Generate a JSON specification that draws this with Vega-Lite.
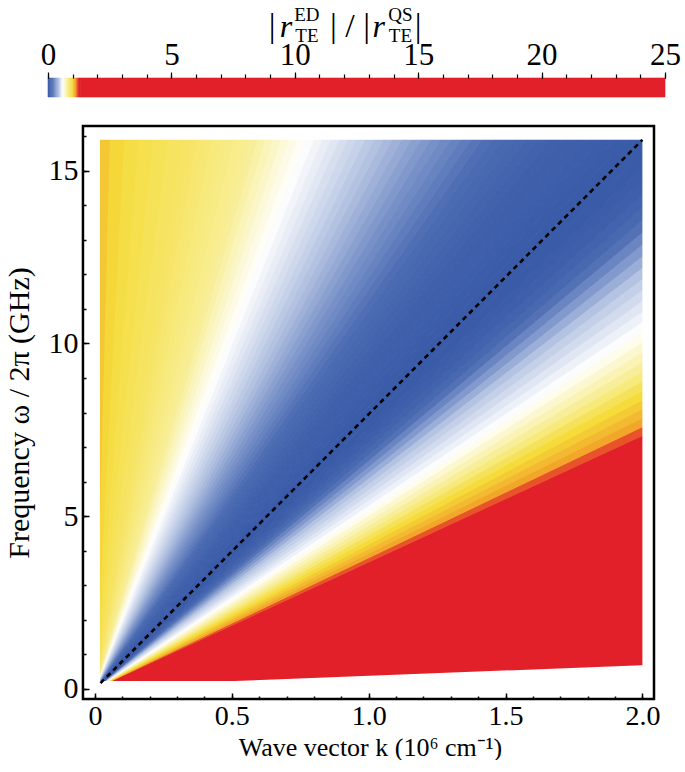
{
  "$schema": "https://vega.github.io/schema/vega-lite/v6.json",
  "background": "white",
  "padding": {"left": 4, "top": 6, "right": 0, "bottom": 0},
  "spacing": 26,
  "config": {
    "view": {"stroke": null},
    "font": "Liberation Serif",
    "axis": {"labelFont": "Liberation Serif", "titleFont": "Liberation Serif", "titleFontWeight": "normal", "labelColor": "black", "titleColor": "black", "tickColor": "black", "grid": false, "domain": false, "zindex": 1, "labelOverlap": false, "labelFlush": false},
    "text": {"font": "Liberation Serif", "color": "black"}
  },
  "datasets": {
    "bar": [
      {"a":0,"b":0.05,"c":0.025},{"a":0.05,"b":0.1,"c":0.075},{"a":0.1,"b":0.15,"c":0.125},{"a":0.15,"b":0.2,"c":0.175},
      {"a":0.2,"b":0.25,"c":0.225},{"a":0.25,"b":0.3,"c":0.275},{"a":0.3,"b":0.35,"c":0.325},{"a":0.35,"b":0.4,"c":0.375},
      {"a":0.4,"b":0.45,"c":0.425},{"a":0.45,"b":0.5,"c":0.475},{"a":0.5,"b":0.55,"c":0.525},{"a":0.55,"b":0.6,"c":0.575},
      {"a":0.6,"b":0.65,"c":0.625},{"a":0.65,"b":0.7,"c":0.675},{"a":0.7,"b":0.75,"c":0.725},{"a":0.75,"b":0.8,"c":0.775},
      {"a":0.8,"b":0.85,"c":0.825},{"a":0.85,"b":0.9,"c":0.875},{"a":0.9,"b":0.95,"c":0.925},{"a":0.95,"b":1.0,"c":0.975},
      {"a":1.0,"b":1.05,"c":1.025},{"a":1.05,"b":1.1,"c":1.075},{"a":1.1,"b":1.15,"c":1.125},{"a":1.15,"b":1.2,"c":1.175},
      {"a":1.2,"b":1.25,"c":1.225},{"a":1.25,"b":1.3,"c":1.275},{"a":1.3,"b":25,"c":25}
    ],
    "wedges": [
      {"w":0,"k":0,"lo":0,"hi":0,"r":25},{"w":0,"k":2.1,"lo":0,"hi":7.435,"r":25},
      {"w":1,"k":0,"lo":0,"hi":0,"r":1.28},{"w":1,"k":2.1,"lo":7.435,"hi":7.70,"r":1.28},
      {"w":2,"k":0,"lo":0,"hi":0,"r":1.2},{"w":2,"k":2.1,"lo":7.70,"hi":7.966,"r":1.2},
      {"w":3,"k":0,"lo":0,"hi":0,"r":1.116},{"w":3,"k":2.1,"lo":7.966,"hi":8.237,"r":1.116},
      {"w":4,"k":0,"lo":0,"hi":0,"r":1.077},{"w":4,"k":2.1,"lo":8.237,"hi":8.509,"r":1.077},
      {"w":5,"k":0,"lo":0,"hi":0,"r":1.038},{"w":5,"k":2.1,"lo":8.509,"hi":8.788,"r":1.038},
      {"w":6,"k":0,"lo":0,"hi":0,"r":0.998},{"w":6,"k":2.1,"lo":8.788,"hi":9.068,"r":0.998},
      {"w":7,"k":0,"lo":0,"hi":0,"r":0.93},{"w":7,"k":2.1,"lo":9.068,"hi":9.355,"r":0.93},
      {"w":8,"k":0,"lo":0,"hi":0,"r":0.861},{"w":8,"k":2.1,"lo":9.355,"hi":9.643,"r":0.861},
      {"w":9,"k":0,"lo":0,"hi":0,"r":0.795},{"w":9,"k":2.1,"lo":9.643,"hi":9.938,"r":0.795},
      {"w":10,"k":0,"lo":0,"hi":0,"r":0.743},{"w":10,"k":2.1,"lo":9.938,"hi":10.234,"r":0.743},
      {"w":11,"k":0,"lo":0,"hi":0,"r":0.691},{"w":11,"k":2.1,"lo":10.234,"hi":10.539,"r":0.691},
      {"w":12,"k":0,"lo":0,"hi":0,"r":0.64},{"w":12,"k":2.1,"lo":10.539,"hi":10.845,"r":0.64},
      {"w":13,"k":0,"lo":0,"hi":0,"r":0.593},{"w":13,"k":2.1,"lo":10.845,"hi":11.161,"r":0.593},
      {"w":14,"k":0,"lo":0,"hi":0,"r":0.563},{"w":14,"k":2.1,"lo":11.161,"hi":11.478,"r":0.563},
      {"w":15,"k":0,"lo":0,"hi":0,"r":0.534},{"w":15,"k":2.1,"lo":11.478,"hi":11.805,"r":0.534},
      {"w":16,"k":0,"lo":0,"hi":0,"r":0.504},{"w":16,"k":2.1,"lo":11.805,"hi":12.133,"r":0.504},
      {"w":17,"k":0,"lo":0,"hi":0,"r":0.475},{"w":17,"k":2.1,"lo":12.133,"hi":12.473,"r":0.475},
      {"w":18,"k":0,"lo":0,"hi":0,"r":0.44},{"w":18,"k":2.1,"lo":12.473,"hi":12.814,"r":0.44},
      {"w":19,"k":0,"lo":0,"hi":0,"r":0.377},{"w":19,"k":2.1,"lo":12.814,"hi":13.168,"r":0.377},
      {"w":20,"k":0,"lo":0,"hi":0,"r":0.315},{"w":20,"k":2.1,"lo":13.168,"hi":13.524,"r":0.315},
      {"w":21,"k":0,"lo":0,"hi":0,"r":0.246},{"w":21,"k":2.1,"lo":13.524,"hi":13.893,"r":0.246},
      {"w":22,"k":0,"lo":0,"hi":0,"r":0.176},{"w":22,"k":2.1,"lo":13.893,"hi":14.263,"r":0.176},
      {"w":23,"k":0,"lo":0,"hi":0,"r":0.12},{"w":23,"k":2.1,"lo":14.263,"hi":14.649,"r":0.12},
      {"w":24,"k":0,"lo":0,"hi":0,"r":0.073},{"w":24,"k":2.1,"lo":14.649,"hi":15.037,"r":0.073},
      {"w":25,"k":0,"lo":0,"hi":0,"r":0.041},{"w":25,"k":2.1,"lo":15.037,"hi":15.442,"r":0.041},
      {"w":26,"k":0,"lo":0,"hi":0,"r":0.022},{"w":26,"k":2.1,"lo":15.442,"hi":15.848,"r":0.022},
      {"w":27,"k":0,"lo":0,"hi":0,"r":0.003},{"w":27,"k":2.1,"lo":15.848,"hi":16.273,"r":0.003},
      {"w":28,"k":0,"lo":0,"hi":0,"r":0},{"w":28,"k":2.1,"lo":16.273,"hi":16.7,"r":0},
      {"w":29,"k":0,"lo":0,"hi":0,"r":0.004},{"w":29,"k":2.1,"lo":16.7,"hi":17.148,"r":0.004},
      {"w":30,"k":0,"lo":0,"hi":0,"r":0.011},{"w":30,"k":2.1,"lo":17.148,"hi":17.598,"r":0.011},
      {"w":31,"k":0,"lo":0,"hi":0,"r":0.019},{"w":31,"k":2.1,"lo":17.598,"hi":18.072,"r":0.019},
      {"w":32,"k":0,"lo":0,"hi":0,"r":0.026},{"w":32,"k":2.1,"lo":18.072,"hi":18.547,"r":0.026},
      {"w":33,"k":0,"lo":0,"hi":0,"r":0.034},{"w":33,"k":2.1,"lo":18.547,"hi":19.049,"r":0.034},
      {"w":34,"k":0,"lo":0,"hi":0,"r":0.041},{"w":34,"k":2.1,"lo":19.049,"hi":19.552,"r":0.041},
      {"w":35,"k":0,"lo":0,"hi":0,"r":0.049},{"w":35,"k":2.1,"lo":19.552,"hi":20.08,"r":0.049},
      {"w":36,"k":0,"lo":0,"hi":0,"r":0.066},{"w":36,"k":2.1,"lo":20.08,"hi":20.623,"r":0.066},
      {"w":37,"k":0,"lo":0,"hi":0,"r":0.084},{"w":37,"k":2.1,"lo":20.623,"hi":21.19,"r":0.084},
      {"w":38,"k":0,"lo":0,"hi":0,"r":0.103},{"w":38,"k":2.1,"lo":21.19,"hi":21.763,"r":0.103},
      {"w":39,"k":0,"lo":0,"hi":0,"r":0.122},{"w":39,"k":2.1,"lo":21.763,"hi":22.37,"r":0.122},
      {"w":40,"k":0,"lo":0,"hi":0,"r":0.141},{"w":40,"k":2.1,"lo":22.37,"hi":22.986,"r":0.141},
      {"w":41,"k":0,"lo":0,"hi":0,"r":0.1625},{"w":41,"k":2.1,"lo":22.986,"hi":23.63,"r":0.1625},
      {"w":42,"k":0,"lo":0,"hi":0,"r":0.1875},{"w":42,"k":2.1,"lo":23.63,"hi":24.299,"r":0.1875},
      {"w":43,"k":0,"lo":0,"hi":0,"r":0.2125},{"w":43,"k":2.1,"lo":24.299,"hi":25.0,"r":0.2125},
      {"w":44,"k":0,"lo":0,"hi":0,"r":0.2375},{"w":44,"k":2.1,"lo":25.0,"hi":25.716,"r":0.2375},
      {"w":45,"k":0,"lo":0,"hi":0,"r":0.2625},{"w":45,"k":2.1,"lo":25.716,"hi":26.47,"r":0.2625},
      {"w":46,"k":0,"lo":0,"hi":0,"r":0.2875},{"w":46,"k":2.1,"lo":26.47,"hi":27.253,"r":0.2875},
      {"w":47,"k":0,"lo":0,"hi":0,"r":0.3125},{"w":47,"k":2.1,"lo":27.253,"hi":28.07,"r":0.3125},
      {"w":48,"k":0,"lo":0,"hi":0,"r":0.3375},{"w":48,"k":2.1,"lo":28.07,"hi":28.926,"r":0.3375},
      {"w":49,"k":0,"lo":0,"hi":0,"r":0.3625},{"w":49,"k":2.1,"lo":28.926,"hi":29.82,"r":0.3625},
      {"w":50,"k":0,"lo":0,"hi":0,"r":0.3875},{"w":50,"k":2.1,"lo":29.82,"hi":30.758,"r":0.3875},
      {"w":51,"k":0,"lo":0,"hi":0,"r":0.4125},{"w":51,"k":2.1,"lo":30.758,"hi":31.74,"r":0.4125},
      {"w":52,"k":0,"lo":0,"hi":0,"r":0.4375},{"w":52,"k":2.1,"lo":31.74,"hi":32.775,"r":0.4375},
      {"w":53,"k":0,"lo":0,"hi":0,"r":0.459},{"w":53,"k":2.1,"lo":32.775,"hi":33.86,"r":0.459},
      {"w":54,"k":0,"lo":0,"hi":0,"r":0.478},{"w":54,"k":2.1,"lo":33.86,"hi":35.012,"r":0.478},
      {"w":55,"k":0,"lo":0,"hi":0,"r":0.497},{"w":55,"k":2.1,"lo":35.012,"hi":36.22,"r":0.497},
      {"w":56,"k":0,"lo":0,"hi":0,"r":0.516},{"w":56,"k":2.1,"lo":36.22,"hi":37.508,"r":0.516},
      {"w":57,"k":0,"lo":0,"hi":0,"r":0.534},{"w":57,"k":2.1,"lo":37.508,"hi":38.86,"r":0.534},
      {"w":58,"k":0,"lo":0,"hi":0,"r":0.553},{"w":58,"k":2.1,"lo":38.86,"hi":40.317,"r":0.553},
      {"w":59,"k":0,"lo":0,"hi":0,"r":0.572},{"w":59,"k":2.1,"lo":40.317,"hi":41.85,"r":0.572},
      {"w":60,"k":0,"lo":0,"hi":0,"r":0.591},{"w":60,"k":2.1,"lo":41.85,"hi":43.505,"r":0.591},
      {"w":61,"k":0,"lo":0,"hi":0,"r":0.615},{"w":61,"k":2.1,"lo":43.505,"hi":45.25,"r":0.615},
      {"w":62,"k":0,"lo":0,"hi":0,"r":0.645},{"w":62,"k":2.1,"lo":45.25,"hi":47.159,"r":0.645},
      {"w":63,"k":0,"lo":0,"hi":0,"r":0.675},{"w":63,"k":2.1,"lo":47.159,"hi":49.19,"r":0.675},
      {"w":64,"k":0,"lo":0,"hi":0,"r":0.705},{"w":64,"k":2.1,"lo":49.19,"hi":51.398,"r":0.705},
      {"w":65,"k":0,"lo":0,"hi":0,"r":0.735},{"w":65,"k":2.1,"lo":51.398,"hi":53.83,"r":0.735},
      {"w":66,"k":0,"lo":0,"hi":0,"r":0.765},{"w":66,"k":2.1,"lo":53.83,"hi":56.378,"r":0.765},
      {"w":67,"k":0,"lo":0,"hi":0,"r":0.795},{"w":67,"k":2.1,"lo":56.378,"hi":59.25,"r":0.795},
      {"w":68,"k":0,"lo":0,"hi":0,"r":0.81},{"w":68,"k":2.1,"lo":59.25,"hi":62.326,"r":0.81},
      {"w":69,"k":0,"lo":0,"hi":0,"r":0.823},{"w":69,"k":2.1,"lo":62.326,"hi":65.78,"r":0.823},
      {"w":70,"k":0,"lo":0,"hi":0,"r":0.835},{"w":70,"k":2.1,"lo":65.78,"hi":69.561,"r":0.835},
      {"w":71,"k":0,"lo":0,"hi":0,"r":0.848},{"w":71,"k":2.1,"lo":69.561,"hi":73.81,"r":0.848},
      {"w":72,"k":0,"lo":0,"hi":0,"r":0.86},{"w":72,"k":2.1,"lo":73.81,"hi":78.567,"r":0.86},
      {"w":73,"k":0,"lo":0,"hi":0,"r":0.873},{"w":73,"k":2.1,"lo":78.567,"hi":83.97,"r":0.873},
      {"w":74,"k":0,"lo":0,"hi":0,"r":0.885},{"w":74,"k":2.1,"lo":83.97,"hi":90.105,"r":0.885},
      {"w":75,"k":0,"lo":0,"hi":0,"r":0.898},{"w":75,"k":2.1,"lo":90.105,"hi":97.2,"r":0.898},
      {"w":76,"k":0,"lo":0,"hi":0,"r":0.907},{"w":76,"k":2.1,"lo":97.2,"hi":105.44,"r":0.907},
      {"w":77,"k":0,"lo":0,"hi":0,"r":0.92},{"w":77,"k":2.1,"lo":105.44,"hi":126.85,"r":0.92},
      {"w":78,"k":0,"lo":0,"hi":0,"r":0.938},{"w":78,"k":2.1,"lo":126.85,"hi":158.89,"r":0.938},
      {"w":79,"k":0,"lo":0,"hi":0,"r":0.956},{"w":79,"k":2.1,"lo":158.89,"hi":212.19,"r":0.956},
      {"w":80,"k":0,"lo":0,"hi":0,"r":0.976},{"w":80,"k":2.1,"lo":212.19,"hi":318.65,"r":0.976},
      {"w":81,"k":0,"lo":0,"hi":0,"r":1.011},{"w":81,"k":2.1,"lo":318.65,"hi":637.74,"r":1.011},
      {"w":82,"k":0,"lo":0,"hi":0,"r":1.046},{"w":82,"k":2.1,"lo":637.74,"hi":20000,"r":1.046}
    ],
    "masks": [
      {"x0":-0.2,"x1":0.018,"y0":-1,"y1":17},
      {"x0":-0.2,"x1":2.1,"y0":15.9,"y1":17},
      {"x0":2.0,"x1":2.1,"y0":-1,"y1":17}
    ],
    "bottom": [
      {"k":-0.2,"y":0.22},{"k":0.51,"y":0.22},{"k":2.1,"y":0.711}
    ],
    "light": [
      {"k":0.02,"w":0.16},{"k":2.0,"w":15.9}
    ]
  },
  "vconcat": [
    {
      "width": 617,
      "height": 19,
      "resolve": {"axis": {"x": "independent"}},
      "layer": [
        {
          "data": {"name": "bar"},
          "mark": {"type": "rect", "strokeWidth": 0.6},
          "encoding": {
            "x": {"field": "a", "type": "quantitative", "scale": {"domain": [0, 25], "nice": false, "zero": false},
              "axis": {"orient": "top", "values": [0,5,10,15,20,25], "tickSize": 6, "tickWidth": 1.2, "labelFontSize": 31, "labelPadding": 1, "title": null, "zindex": 1}},
            "x2": {"field": "b"},
            "y": {"datum": 0, "type": "quantitative", "scale": {"domain": [0, 1], "nice": false, "zero": false}, "axis": null},
            "y2": {"datum": 1},
            "color": {"field": "c", "type": "quantitative", "legend": null,
              "scale": {"type": "linear", "domain": [0, 0.15, 0.3, 0.45, 0.6, 0.8, 1.0, 1.12, 1.25, 25], "range": ["#3a5ba8", "#4b6bb2", "#7b94ca", "#b8c6e3", "#ffffff", "#f8ee96", "#f5dc3a", "#f2a52a", "#e2202a", "#e2202a"], "interpolate": "rgb"}},
            "stroke": {"field": "c", "type": "quantitative", "legend": null,
              "scale": {"type": "linear", "domain": [0, 0.15, 0.3, 0.45, 0.6, 0.8, 1.0, 1.12, 1.25, 25], "range": ["#3a5ba8", "#4b6bb2", "#7b94ca", "#b8c6e3", "#ffffff", "#f8ee96", "#f5dc3a", "#f2a52a", "#e2202a", "#e2202a"], "interpolate": "rgb"}}
          }
        },
        {"data": {"values": [{}]}, "mark": {"type": "text", "text": "|", "fontSize": 34, "align": "center", "baseline": "alphabetic"},
          "encoding": {"x": {"datum": 9.08, "type": "quantitative",
              "axis": {"orient": "top", "values": [0,1,2,3,4,5,6,7,8,9,10,11,12,13,14,15,16,17,18,19,20,21,22,23,24,25], "labels": false, "tickSize": 4, "tickWidth": 1.2, "title": null, "zindex": 1}},
            "y": {"datum": 3.16, "type": "quantitative", "axis": null}}},
        {"data": {"values": [{}]}, "mark": {"type": "text", "text": "r", "fontSize": 32, "fontStyle": "italic", "align": "center", "baseline": "alphabetic"},
          "encoding": {"x": {"datum": 9.64, "type": "quantitative", "axis": null}, "y": {"datum": 3.16, "type": "quantitative", "axis": null}}},
        {"data": {"values": [{}]}, "mark": {"type": "text", "text": "ED", "fontSize": 19, "align": "center", "baseline": "alphabetic"},
          "encoding": {"x": {"datum": 10.49, "type": "quantitative", "axis": null}, "y": {"datum": 4.0, "type": "quantitative", "axis": null}}},
        {"data": {"values": [{}]}, "mark": {"type": "text", "text": "TE", "fontSize": 19, "align": "center", "baseline": "alphabetic"},
          "encoding": {"x": {"datum": 10.49, "type": "quantitative", "axis": null}, "y": {"datum": 2.9, "type": "quantitative", "axis": null}}},
        {"data": {"values": [{}]}, "mark": {"type": "text", "text": "| / |", "fontSize": 34, "align": "center", "baseline": "alphabetic"},
          "encoding": {"x": {"datum": 12.24, "type": "quantitative", "axis": null}, "y": {"datum": 3.16, "type": "quantitative", "axis": null}}},
        {"data": {"values": [{}]}, "mark": {"type": "text", "text": "r", "fontSize": 32, "fontStyle": "italic", "align": "center", "baseline": "alphabetic"},
          "encoding": {"x": {"datum": 13.4, "type": "quantitative", "axis": null}, "y": {"datum": 3.16, "type": "quantitative", "axis": null}}},
        {"data": {"values": [{}]}, "mark": {"type": "text", "text": "QS", "fontSize": 19, "align": "center", "baseline": "alphabetic"},
          "encoding": {"x": {"datum": 14.28, "type": "quantitative", "axis": null}, "y": {"datum": 4.0, "type": "quantitative", "axis": null}}},
        {"data": {"values": [{}]}, "mark": {"type": "text", "text": "TE", "fontSize": 19, "align": "center", "baseline": "alphabetic"},
          "encoding": {"x": {"datum": 14.28, "type": "quantitative", "axis": null}, "y": {"datum": 2.9, "type": "quantitative", "axis": null}}},
        {"data": {"values": [{}]}, "mark": {"type": "text", "text": "|", "fontSize": 34, "align": "center", "baseline": "alphabetic"},
          "encoding": {"x": {"datum": 15.0, "type": "quantitative", "axis": null}, "y": {"datum": 3.16, "type": "quantitative", "axis": null}}}
      ]
    },
    {
      "width": 606,
      "height": 573,
      "resolve": {"axis": {"x": "independent", "y": "independent"}},
      "layer": [
        {
          "data": {"name": "wedges"},
          "mark": {"type": "area", "clip": true, "strokeWidth": 1, "interpolate": "linear"},
          "encoding": {
            "x": {"field": "k", "type": "quantitative", "scale": {"domain": [-0.1717, 2.0424], "nice": false, "zero": false},
              "axis": {"orient": "bottom", "values": [0, 0.5, 1, 1.5, 2],
                "labelExpr": "datum.value === 0 ? '0' : format(datum.value, '.1f')",
                "tickSize": -6, "tickWidth": 1.5, "labelFontSize": 28, "labelPadding": 9, "zindex": 1,
                "title": "Wave vector k (10⁶ cm⁻¹)", "titleFontSize": 26, "titlePadding": 4, "titleX": 322}},
            "y": {"field": "lo", "type": "quantitative", "stack": null, "scale": {"domain": [-0.3, 16.3], "nice": false, "zero": false},
              "axis": {"orient": "left", "offset": -35, "values": [0, 5, 10, 15],
                "tickSize": -6, "tickWidth": 1.5, "labelFontSize": 30, "labelPadding": 11, "zindex": 1,
                "title": "Frequency ω / 2π (GHz)", "titleFontSize": 30, "titlePadding": 14}},
            "y2": {"field": "hi"},
            "color": {"field": "r", "type": "quantitative", "legend": null,
              "scale": {"type": "linear", "domain": [0, 0.15, 0.3, 0.45, 0.6, 0.8, 1.0, 1.12, 1.25, 25], "range": ["#3a5ba8", "#4b6bb2", "#7b94ca", "#b8c6e3", "#ffffff", "#f8ee96", "#f5dc3a", "#f2a52a", "#e2202a", "#e2202a"], "interpolate": "rgb"}},
            "stroke": {"field": "r", "type": "quantitative", "legend": null,
              "scale": {"type": "linear", "domain": [0, 0.15, 0.3, 0.45, 0.6, 0.8, 1.0, 1.12, 1.25, 25], "range": ["#3a5ba8", "#4b6bb2", "#7b94ca", "#b8c6e3", "#ffffff", "#f8ee96", "#f5dc3a", "#f2a52a", "#e2202a", "#e2202a"], "interpolate": "rgb"}},
            "detail": {"field": "w", "type": "nominal"}
          }
        },
        {
          "data": {"name": "masks"},
          "mark": {"type": "rect", "clip": true, "color": "white"},
          "encoding": {
            "x": {"field": "x0", "type": "quantitative", "axis": null}, "x2": {"field": "x1"},
            "y": {"field": "y0", "type": "quantitative", "axis": null}, "y2": {"field": "y1"}
          }
        },
        {
          "data": {"name": "bottom"},
          "mark": {"type": "area", "clip": true, "color": "white"},
          "encoding": {
            "x": {"field": "k", "type": "quantitative", "axis": null},
            "y": {"field": "y", "type": "quantitative", "stack": null, "axis": null},
            "y2": {"datum": -1}
          }
        },
        {
          "data": {"name": "light"},
          "mark": {"type": "line", "color": "black", "strokeWidth": 2.6, "strokeDash": [5, 4]},
          "encoding": {
            "x": {"field": "k", "type": "quantitative", "axis": null},
            "y": {"field": "w", "type": "quantitative", "axis": null}
          }
        },
        {
          "data": {"values": [{}]},
          "mark": {"type": "rect", "fill": null, "stroke": "black", "strokeWidth": 2.5},
          "encoding": {
            "x": {"datum": -0.044, "type": "quantitative",
              "axis": {"orient": "bottom", "values": [0,0.1,0.2,0.3,0.4,0.5,0.6,0.7,0.8,0.9,1,1.1,1.2,1.3,1.4,1.5,1.6,1.7,1.8,1.9,2], "labels": false, "tickSize": -3, "tickWidth": 1.5, "title": null, "zindex": 1}},
            "x2": {"datum": 2.0424},
            "y": {"datum": -0.3, "type": "quantitative",
              "axis": {"orient": "left", "offset": -35, "values": [0,1,2,3,4,5,6,7,8,9,10,11,12,13,14,15,16], "labels": false, "tickSize": -3, "tickWidth": 1.5, "title": null, "zindex": 1}},
            "y2": {"datum": 16.3}
          }
        }
      ]
    }
  ]
}
